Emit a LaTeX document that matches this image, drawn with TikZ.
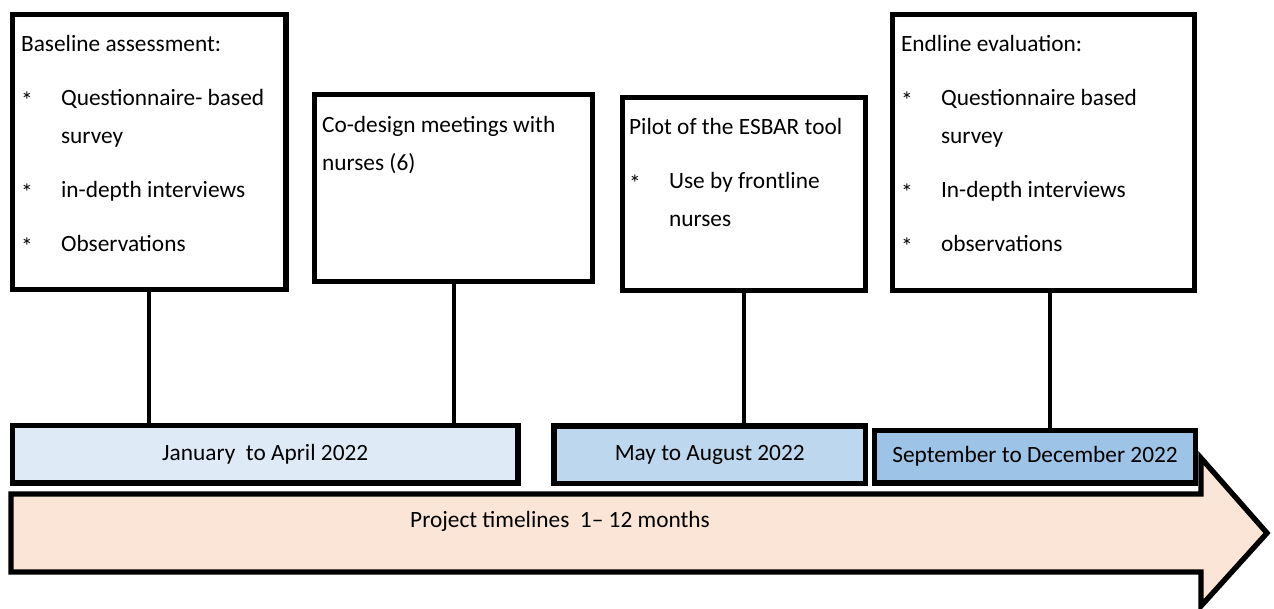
\documentclass[tikz,border=0pt]{standalone}
\usepackage{fontspec}
\setmainfont{Carlito}
\usepackage{xcolor}
\definecolor{janColor}{HTML}{DEEBF7}
\definecolor{mayColor}{HTML}{BDD7EE}
\definecolor{sepColor}{HTML}{9DC3E6}
\definecolor{arrowColor}{HTML}{FBE5D6}
\newcommand{\bulletline}[1]{\makebox[30pt][l]{\raisebox{-2.5pt}{*}}#1}
\newcommand{\indentline}[1]{\hspace*{30pt}#1}

\begin{document}
\begin{tikzpicture}[x=0.75pt,y=0.75pt,yscale=-1,
		font=\fontsize{17.5}{28.5}\selectfont,
		stagebox/.style={draw=black, line width=4pt, fill=white, inner sep=0pt},
		stagetext/.style={anchor=north west, align=left, inner sep=0pt},
		datebar/.style={draw=black, line width=4pt, inner sep=0pt},
		link/.style={draw=black, line width=3pt}]
		\useasboundingbox (0,0) rectangle (1274,608);

		% Timeline Arrow
		\draw [line width=4pt, fill=arrowColor] (11,494) -- (1201,494) -- (1201,458) -- (1267,533) -- (1201,606) -- (1201,572) -- (11,572) -- cycle;
		\node (timeline) at (560,521) {Project timelines\ \ 1– 12 months};

		% Date Bars
		\node [datebar, fill=janColor, minimum width=379.1pt, minimum height=43.1pt] (jan) at (265.25,454.25) {January\ \ to April 2022\hspace{28pt}};
		\node [datebar, fill=mayColor, minimum width=233.6pt, minimum height=43.1pt] (may) at (709.75,454.75) {May to August 2022};
		\node [datebar, fill=sepColor, minimum width=240.75pt, minimum height=39.4pt] (sep) at (1035,456.75) {September to December 2022\hspace{6pt}};

		% Stage Boxes
		\node [stagebox, minimum width=205.1pt, minimum height=206.25pt] (baseline) at (149.25,152) {};
		\node [stagebox, minimum width=208.5pt, minimum height=140.25pt] (codesign) at (453.5,188) {};
		\node [stagebox, minimum width=182.25pt, minimum height=144.75pt] (pilot) at (744,194) {};
		\node [stagebox, minimum width=226.5pt, minimum height=207pt] (endline) at (1043.5,152.5) {};

		% Box Text
		\node [stagetext] (baselinetext) at ([shift={(11,23)}]baseline.north west) {Baseline assessment:\\[12pt]\bulletline{Questionnaire- based}\\\indentline{survey}\\[12pt]\bulletline{in-depth interviews}\\[12pt]\bulletline{Observations}};
		\node [stagetext] (codesigntext) at ([shift={(10,24)}]codesign.north west) {Co-design meetings with\\nurses (6)};
		\node [stagetext] (pilottext) at ([shift={(9,23)}]pilot.north west) {Pilot of the ESBAR tool\\[12pt]\bulletline{Use by frontline}\\\indentline{nurses}};
		\node [stagetext] (endlinetext) at ([shift={(11,23)}]endline.north west) {Endline evaluation:\\[12pt]\bulletline{Questionnaire based}\\\indentline{survey}\\[12pt]\bulletline{In-depth interviews}\\[12pt]\bulletline{observations}};

		% Straight Lines
		\draw [link] (baseline.south) -- (baseline.south |- jan.north);
		\draw [link] (codesign.south) -- (codesign.south |- jan.north);
		\draw [link] (pilot.south) -- (pilot.south |- may.north);
		\draw [link] ([xshift=4.9pt]endline.south) -- ([xshift=4.9pt]endline.south |- sep.north);
	\end{tikzpicture}
\end{document}
